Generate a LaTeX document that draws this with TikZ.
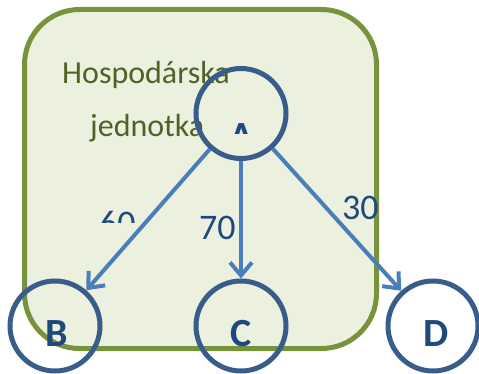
\documentclass[tikz,border=0pt]{standalone}
\usepackage{fontspec}
\setmainfont{Carlito}
\usetikzlibrary{arrows.meta}
\definecolor{rectfill}{HTML}{EBF1DE}
\definecolor{rectline}{HTML}{77933C}
\definecolor{txtgreen}{HTML}{4F6228}
\definecolor{circline}{HTML}{385D8A}
\definecolor{arrowc}{HTML}{4A7EBB}
\definecolor{lettc}{HTML}{1F497D}
\begin{document}
\begin{tikzpicture}[x=1pt,y=-1pt,
 unitbox/.style={draw=rectline, fill=rectfill, line width=5pt, rounded corners=55pt, minimum width=352pt, minimum height=339pt, inner sep=0pt},
 vertex/.style={circle, draw=circline, line width=5pt, minimum size=90pt, inner sep=0pt},
 flow/.style={draw=arrowc, line width=4pt, -{Straight Barb[length=13pt,width=22pt]}},
 letter/.style={font=\fontsize{40}{48}\selectfont\bfseries, text=lettc, inner sep=0pt, anchor=base},
 num/.style={font=\fontsize{36}{42}\selectfont, text=lettc, inner sep=0pt, anchor=base west},
 title/.style={font=\fontsize{32}{38}\selectfont, text=txtgreen, inner sep=0pt, anchor=base west}]
\useasboundingbox (0,0) rectangle (479,374);
\node[unitbox] (unit) at (200.5,179) {};
\node[title] (t1) at (62,84) {Hospodárska};
\node[title] (t2) at (90,137) {jednotka};
\begin{scope}
\clip (150,100) rectangle (330,134);
\node[letter] (la) at (242,150) {A};
\end{scope}
\begin{scope}
\clip (80,190) rectangle (160,222);
\node[num] (n60) at (99,235) {60};
\end{scope}
\node[num] (n70) at (199,240) {70};
\node[num] (n30) at (342,219) {30};
\node[vertex] (A) at (241,113.5) {};
\node[vertex] (B) at (55,326) {};
\node[vertex] (C) at (241,326) {};
\node[vertex] (D) at (433,326) {};
\node[letter] (lb) at (56.5,346) {B};
\node[letter] (lc) at (241.5,346) {C};
\node[letter] (ld) at (436,346) {D};
\draw[flow] (A) -- (B);
\draw[flow] (A) -- (C);
\draw[flow] (A) -- (D);
\end{tikzpicture}
\end{document}
